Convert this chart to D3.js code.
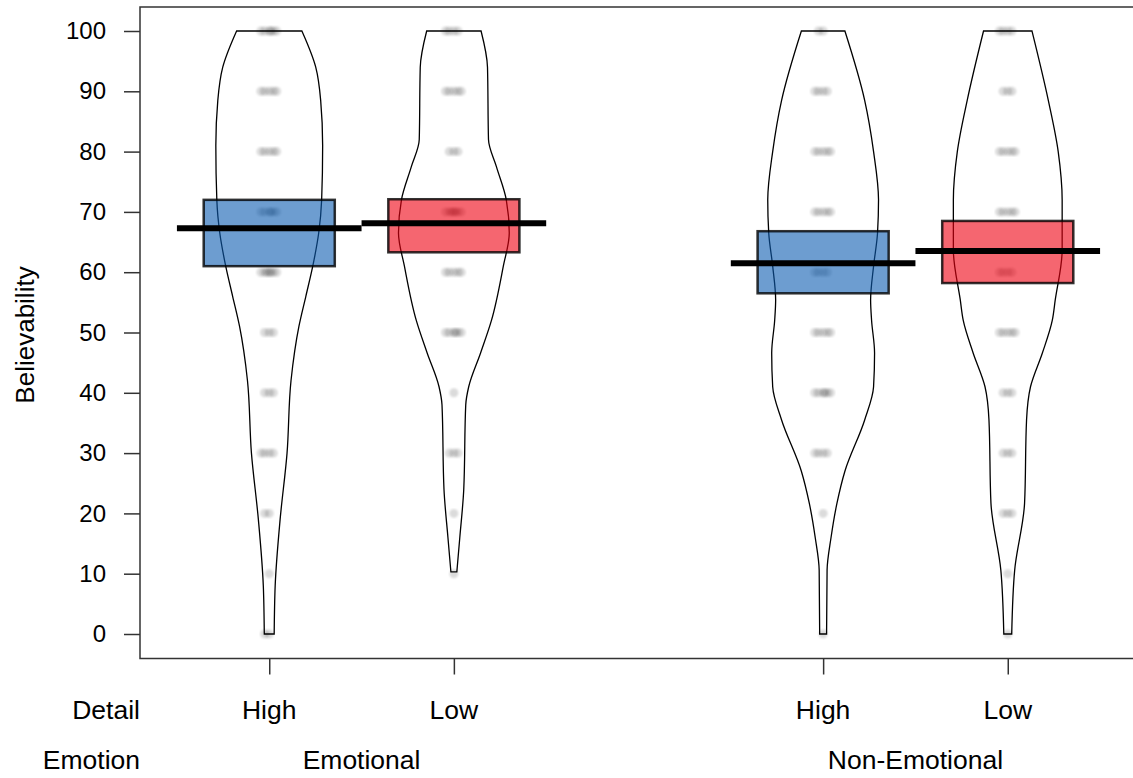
<!DOCTYPE html>
<html>
<head>
<meta charset="utf-8">
<script src="https://cdn.jsdelivr.net/npm/d3@7"></script>
<style>
  body { margin: 0; background: #fff; }
  text { font-family: "Liberation Sans", Arial, sans-serif; fill: #000; }
</style>
</head>
<body>
<svg width="1133" height="778"></svg>
<script>
// groups, in plotting order
const detail = ['High', 'Low', 'High', 'Low'];
const emotion = ['Emotional', 'Non-Emotional'];
const xPos = [1, 2, 4, 5];
const yTicks = [0, 10, 20, 30, 40, 50, 60, 70, 80, 90, 100];

// means and inference band (lower, upper)
const means = [67.3, 68.1, 61.5, 63.5];
const bandLow = [61.0, 63.3, 56.5, 58.2];
const bandHigh = [72.0, 72.1, 66.8, 68.5];

// bean outlines: [value, relative density]
const beanEH = [[0, 5], [8, 6], [19, 11], [30, 18], [42, 22], [51, 30], [56, 37], [61, 44], [66.5, 50], [72, 53], [81, 54], [88.5, 52], [94, 47], [100, 33]];
const beanEL = [[10.3, 3], [16, 6], [24, 10], [38, 12], [41, 15], [46.6, 27], [52, 38], [61, 50], [66.5, 56], [72, 53], [77.5, 43], [82, 35], [94, 34], [100, 27.5]];
const beanNH = [[0, 3.5], [10.6, 4], [16, 8], [21.7, 14], [27, 22], [35.5, 42], [41, 51], [46.6, 52], [52, 49], [55.4, 48], [61, 51], [66.5, 55], [72, 56], [80, 51], [88.5, 42], [100, 22]];
const beanNL = [[0, 4], [10.6, 7], [21.7, 17], [35.5, 19], [41, 23], [46.6, 35], [52, 45], [55.4, 48], [63.7, 55], [72, 55], [80, 51], [88.5, 41], [100, 24.5]];

// raw responses: [value, count]
const ptsEH = [[100, 6], [90, 5], [80, 5], [70, 6], [60, 7], [50, 3], [40, 3], [30, 4], [20, 2], [10, 1], [0, 2]];
const ptsEL = [[100, 4], [90, 5], [80, 3], [70, 7], [60, 5], [50, 6], [40, 1], [30, 3], [20, 1], [10, 1]];
const ptsNH = [[100, 2], [90, 4], [80, 5], [70, 5], [60, 4], [50, 5], [40, 6], [30, 4], [20, 1], [0, 1]];
const ptsNL = [[100, 4], [90, 3], [80, 5], [70, 5], [60, 4], [50, 5], [40, 3], [30, 3], [20, 3], [10, 1], [0, 1]];

const beans = [beanEH, beanEL, beanNH, beanNL];
const points = [ptsEH, ptsEL, ptsNH, ptsNL];
const colors = ['#0C5BB0', '#EE0011', '#0C5BB0', '#EE0011'];

const svg = d3.select('svg');
const pL = 140, pT = 7, pB = 658.5, pR = 1137;

const x = d3.scaleLinear().domain([0.3, 5.7]).range([pL, pR]);
const y = d3.scaleLinear().domain([0, 100]).range([634, 31]);
const unit = x(1) - x(0);

// bean half width scale
const wScale = d3.scaleLinear().domain([0, 56]).range([0, 0.3 * unit]);

// beans
beans.forEach((b, i) => {
  const cx = x(xPos[i]);
  const area = d3.area()
    .y(d => y(d[0]))
    .x0(d => cx - wScale(d[1]))
    .x1(d => cx + wScale(d[1]))
    .curve(d3.curveMonotoneY);
  svg.append('path')
    .attr('d', area(b) + 'Z')
    .attr('fill', 'none')
    .attr('stroke', '#000')
    .attr('stroke-width', 1.3);
});

// soft edge on the points
svg.append('defs').append('filter').attr('id', 'soft')
  .append('feGaussianBlur').attr('stdDeviation', 0.8);

// points, spread with a fixed pattern
const spread = [0, -0.025, 0.022, -0.045, 0.04, 0.008, -0.012, 0.06];
points.forEach((p, i) => {
  p.forEach(([v, n]) => {
    for (let k = 0; k < n; k++) {
      svg.append('circle')
        .attr('cx', x(xPos[i] + spread[k % spread.length]))
        .attr('cy', y(v))
        .attr('r', 4.5)
        .attr('fill', '#000')
        .attr('fill-opacity', 0.14)
        .attr('filter', 'url(#soft)');
    }
  });
});

// inference bands
const bw = 0.355;
xPos.forEach((p, i) => {
  svg.append('rect')
    .attr('x', x(p - bw))
    .attr('y', y(bandHigh[i]))
    .attr('width', x(p + bw) - x(p - bw))
    .attr('height', y(bandLow[i]) - y(bandHigh[i]))
    .attr('fill', colors[i])
    .attr('fill-opacity', 0.6)
    .attr('stroke', '#000')
    .attr('stroke-opacity', 0.8)
    .attr('stroke-width', 2.5);
});

// mean lines
xPos.forEach((p, i) => {
  svg.append('line')
    .attr('x1', x(p - 0.5)).attr('x2', x(p + 0.5))
    .attr('y1', y(means[i])).attr('y2', y(means[i]))
    .attr('stroke', '#000')
    .attr('stroke-width', 6);
});

// frame
svg.append('rect')
  .attr('x', pL).attr('y', pT)
  .attr('width', pR - pL).attr('height', pB - pT)
  .attr('fill', 'none')
  .attr('stroke', '#333')
  .attr('stroke-width', 1.5);

// y axis
const yAxis = svg.append('g')
  .attr('transform', `translate(${pL},0)`)
  .call(d3.axisLeft(y).tickValues(yTicks).tickSize(16).tickPadding(18));
yAxis.select('.domain').remove();
yAxis.selectAll('line').attr('stroke', '#333').attr('stroke-width', 1.5);
yAxis.selectAll('text').style('font-size', '24px').attr('font-family', null);

svg.append('text')
  .attr('transform', `translate(34,335) rotate(-90)`)
  .attr('text-anchor', 'middle')
  .style('font-size', '26px')
  .text('Believability');

// x axis ticks
const xAxis = svg.append('g')
  .attr('transform', `translate(0,${pB})`)
  .call(d3.axisBottom(x).tickValues(xPos).tickSize(16).tickFormat(''));
xAxis.select('.domain').remove();
xAxis.selectAll('line').attr('stroke', '#333').attr('stroke-width', 1.5);

// group labels
const lab = svg.append('g').style('font-size', '26.5px');
xPos.forEach((p, i) => {
  lab.append('text').attr('x', x(p)).attr('y', 719)
    .attr('text-anchor', 'middle').text(detail[i]);
});
emotion.forEach((e, j) => {
  lab.append('text').attr('x', (x(xPos[2 * j]) + x(xPos[2 * j + 1])) / 2).attr('y', 769)
    .attr('text-anchor', 'middle').text(e);
});
lab.append('text').attr('x', 140).attr('y', 719).attr('text-anchor', 'end').text('Detail');
lab.append('text').attr('x', 140).attr('y', 769).attr('text-anchor', 'end').text('Emotion');
</script>
</body>
</html>
